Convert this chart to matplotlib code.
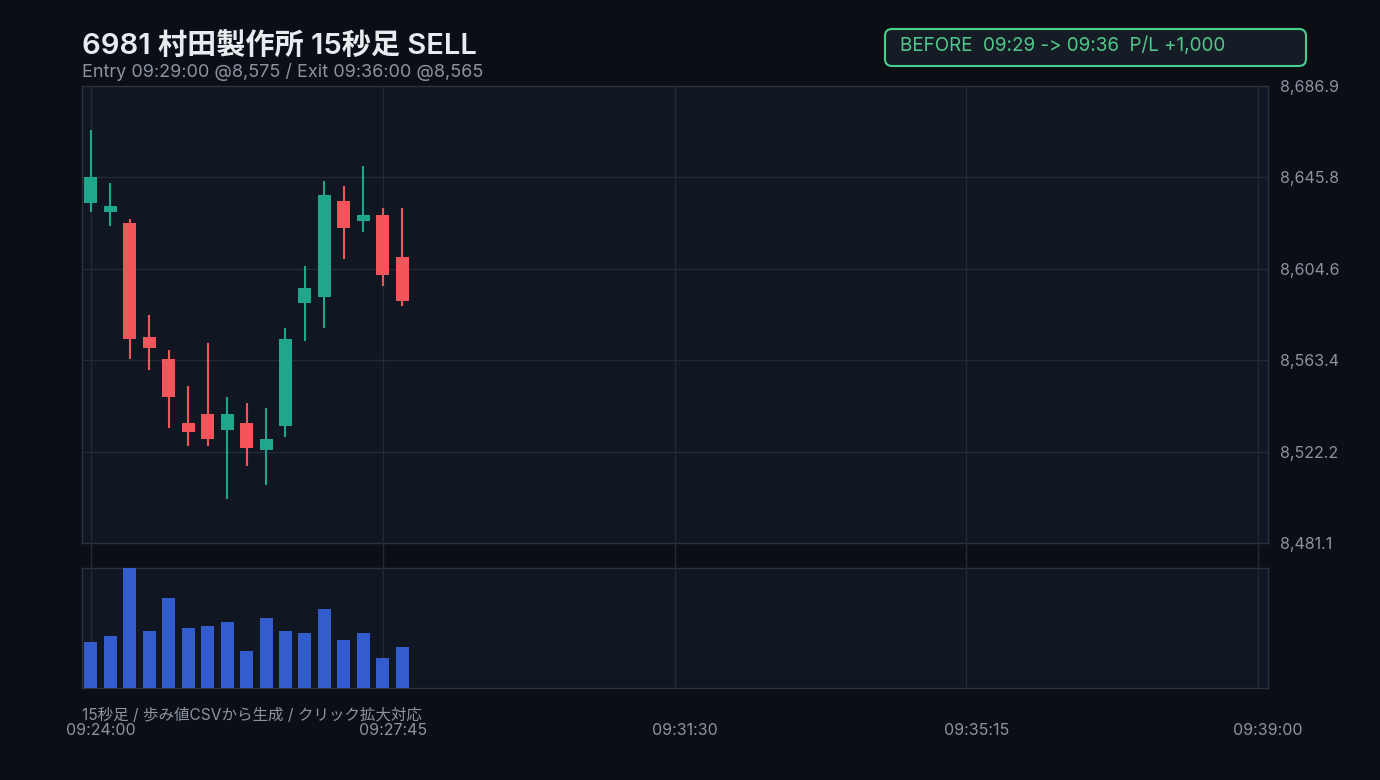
import numpy as np
import matplotlib
matplotlib.use("Agg")
import matplotlib.pyplot as plt
from matplotlib.patches import FancyBboxPatch
from matplotlib.lines import Line2D
from matplotlib.transforms import ScaledTranslation, blended_transform_factory

plt.rcParams["font.family"] = ["Inter", "Noto Sans CJK JP", "DejaVu Sans"]

# 15秒足 (09:24:00 から)
opens = [8634, 8630, 8625, 8574, 8564, 8535, 8539, 8532, 8535,
         8523, 8534, 8589, 8592, 8635, 8626, 8629, 8610]
highs = [8667, 8643, 8627, 8584, 8568, 8552, 8571, 8547, 8544,
         8542, 8578, 8606, 8644, 8642, 8651, 8632, 8632]
lows = [8630, 8624, 8564, 8559, 8533, 8525, 8525, 8501, 8516,
        8507, 8529, 8572, 8578, 8609, 8621, 8597, 8588]
closes = [8646, 8633, 8573, 8569, 8547, 8531, 8528, 8539, 8524,
          8528, 8573, 8596, 8638, 8623, 8629, 8602, 8590]
volumes = [4600, 5200, 12000, 5700, 9000, 6000, 6200, 6600, 3700,
           7000, 5700, 5500, 7900, 4800, 5500, 3000, 4100]

x_ticks = [0, 15, 30, 45, 60]
x_labels = ["09:24:00", "09:27:45", "09:31:30", "09:35:15", "09:39:00"]
y_min, y_max = 8481.1, 8686.9
y_labels = ["8,481.1", "8,522.2", "8,563.4", "8,604.6", "8,645.8", "8,686.9"]

title = "6981 村田製作所 15秒足 SELL"
subtitle = "Entry 09:29:00 @8,575 / Exit 09:36:00 @8,565"
badge = "BEFORE  09:29 -> 09:36  P/L +1,000"
footer = "15秒足 / 歩み値CSVから生成 / クリック拡大対応"

BG = "#0b0e14"
PANEL = "#111722"
GRID = "#242a35"
SPINE = "#2c3340"
TEXT = "#8b93a1"
UP = "#1fa78e"
DOWN = "#f2565b"
VOL = "#335dcc"

fig = plt.figure(figsize=(13.8, 7.8), dpi=100, facecolor=BG)
ax = fig.add_axes([82 / 1380, 237 / 780, 1186 / 1380, 457 / 780])
axv = fig.add_axes([82 / 1380, 92 / 780, 1186 / 1380, 120 / 780])

x = np.arange(len(opens))
o = np.array(opens, dtype=float)
c = np.array(closes, dtype=float)
colors = [UP if cc >= oo else DOWN for oo, cc in zip(o, c)]

for a in (ax, axv):
    a.set_facecolor(PANEL)
    for s in a.spines.values():
        s.set_color(SPINE)
        s.set_linewidth(1)
    a.set_xlim(-0.46, 60.51)
    a.tick_params(length=0)
    for t in x_ticks:
        a.axvline(t, color=GRID, linewidth=1, zorder=1)

# ローソク足
ax.vlines(x, lows, highs, colors=colors, linewidth=1.5, zorder=2)
ax.bar(x, np.abs(c - o), bottom=np.minimum(o, c), width=0.67,
       color=colors, zorder=3)
ax.set_ylim(y_min, y_max)
yt = np.linspace(y_min, y_max, len(y_labels))
ax.set_yticks(yt)
ax.set_yticklabels(y_labels, color=TEXT, fontsize=11.5)
ax.yaxis.tick_right()
ax.tick_params(axis="y", pad=8.5)
ax.set_xticks([])
for v in yt[1:-1]:
    ax.axhline(v, color=GRID, linewidth=1, zorder=1)

# 出来高
axv.bar(x, volumes, width=0.67, color=VOL, zorder=3)
axv.set_ylim(0, max(volumes))
axv.set_yticks([])
axv.set_xticks(x_ticks)
axv.set_xticklabels(x_labels, color=TEXT, fontsize=11.5)
axv.tick_params(axis="x", pad=25)
shift = ScaledTranslation(10 / 100, 0, fig.dpi_scale_trans)
for lab in axv.get_xticklabels():
    lab.set_transform(lab.get_transform() + shift)

# パネル間の縦グリッド
tr = blended_transform_factory(ax.transData, fig.transFigure)
for t in x_ticks:
    fig.add_artist(Line2D([t, t], [212 / 780, 237 / 780], transform=tr,
                          color=GRID, linewidth=1))

# タイトル
fig.text(82 / 1380, 1 - 55 / 780, title, color="#e8ebf0", fontsize=21,
         fontweight="semibold", va="baseline", ha="left")
fig.text(82 / 1380, 1 - 77 / 780, subtitle, color=TEXT, fontsize=13,
         va="baseline", ha="left")
fig.text(82 / 1380, 1 - 715 / 780, footer, color=TEXT, fontsize=11.2,
         va="center", ha="left")

# バッジ
box = FancyBboxPatch((8.85, 7.14), 4.21, 0.37,
                     boxstyle="round,pad=0,rounding_size=0.07",
                     transform=fig.dpi_scale_trans, facecolor="#151c25",
                     edgecolor="#45d08f", linewidth=1.5)
fig.add_artist(box)
fig.text(9.0, 7.29, badge, transform=fig.dpi_scale_trans, color="#4fc98b",
         fontsize=13.6, va="baseline", ha="left")

fig.savefig("out.png", dpi=100, facecolor=BG)
